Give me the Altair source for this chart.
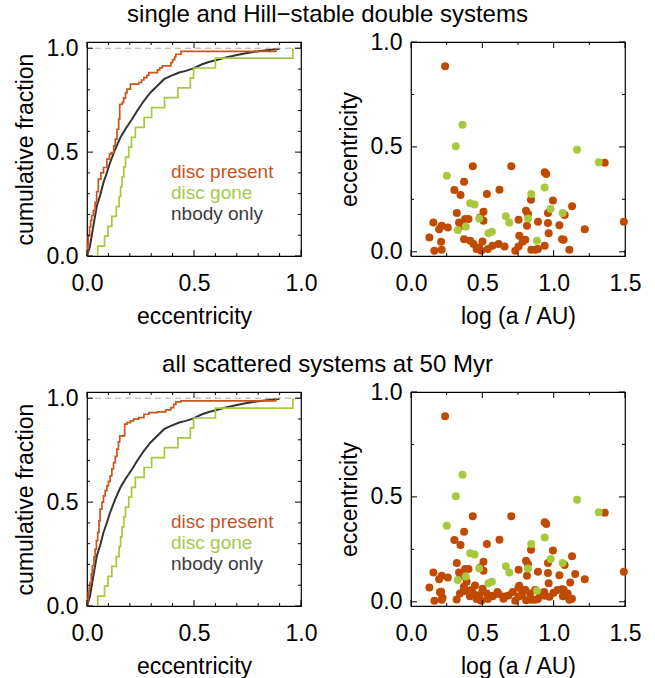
import altair as alt
import pandas as pd

FONT = "Liberation Sans"
ORANGE_LINE = "#c8561a"
ORANGE_DOT = "#c04a00"
GREEN_LINE = "#a6c83c"
GREEN_DOT = "#a8c83e"
GRAY_LINE = "#333333"

# ---------------- cumulative distributions (left panels) ----------------
gone_ecc = [0.050, 0.082, 0.098, 0.116, 0.137, 0.150, 0.157, 0.164, 0.172, 0.180,
            0.195, 0.208, 0.226, 0.267, 0.302, 0.362, 0.425, 0.483, 0.498, 0.600, 0.962]

present_top_ecc = [0, 0.003, 0.006, 0.012, 0.017, 0.022, 0.030, 0.038, 0.045, 0.053,
                   0.065, 0.077, 0.093, 0.105, 0.113, 0.125, 0.132, 0.140, 0.148, 0.153,
                   0.165, 0.171, 0.180, 0.187, 0.203, 0.242, 0.255, 0.266, 0.280, 0.289,
                   0.329, 0.340, 0.352, 0.392, 0.400, 0.410, 0.415, 0.439, 0.882]
present_top_frac = [0, 0.05, 0.098, 0.14, 0.17, 0.194, 0.22, 0.258, 0.31, 0.37,
                    0.40, 0.426, 0.466, 0.49, 0.498, 0.53, 0.5625, 0.61, 0.659, 0.73,
                    0.739, 0.76, 0.785, 0.803, 0.827, 0.835, 0.847, 0.859, 0.87, 0.883,
                    0.896, 0.905, 0.915, 0.931, 0.945, 0.958, 0.971, 0.985, 1.0]

present_bot_ecc = [0, 0.003, 0.006, 0.010, 0.014, 0.020, 0.025, 0.032, 0.038, 0.044,
                   0.050, 0.056, 0.061, 0.070, 0.077, 0.085, 0.093, 0.100, 0.108, 0.116,
                   0.124, 0.132, 0.140, 0.147, 0.153, 0.176, 0.187, 0.203, 0.218, 0.242,
                   0.266, 0.289, 0.329, 0.368, 0.392, 0.405, 0.415, 0.439, 0.882]
present_bot_frac = [0, 0.03, 0.066, 0.09, 0.114, 0.155, 0.194, 0.235, 0.274, 0.315,
                    0.354, 0.41, 0.466, 0.50, 0.53, 0.555, 0.578, 0.60, 0.626, 0.66,
                    0.69, 0.72, 0.755, 0.79, 0.819, 0.875, 0.883, 0.891, 0.899, 0.907,
                    0.923, 0.931, 0.934, 0.944, 0.955, 0.97, 0.982, 0.987, 1.0]

nbody_ecc = [0, 0.014, 0.030, 0.046, 0.061, 0.077, 0.093, 0.108, 0.132, 0.156,
             0.179, 0.211, 0.234, 0.266, 0.297, 0.329, 0.360, 0.392, 0.431, 0.462,
             0.494, 0.538, 0.569, 0.601, 0.648, 0.695, 0.742, 0.789, 0.852, 0.900]
nbody_frac = [0, 0.048, 0.146, 0.242, 0.29, 0.354, 0.402, 0.45, 0.514, 0.57,
              0.61, 0.659, 0.698, 0.747, 0.787, 0.819, 0.851, 0.867, 0.883, 0.891,
              0.902, 0.923, 0.934, 0.942, 0.955, 0.966, 0.976, 0.984, 0.992, 0.998]

# ---------------- scatter (right panels) ----------------
present_loga = [0.239, 0.433, 0.703, 0.937, 0.948, 1.358, 0.372, 0.304, 0.347, 0.532,
                0.620, 0.841, 0.995, 1.129, 0.321, 0.508, 0.806, 0.820, 0.960, 1.077,
                0.157, 0.215, 0.197, 0.258, 0.337, 0.379, 0.403, 0.356, 0.485, 0.508,
                0.754, 0.813, 0.890, 0.960, 0.965, 1.040, 1.218, 1.492, 0.129, 0.211,
                0.164, 0.215, 0.372, 0.415, 0.438, 0.478, 0.501, 0.492, 0.539, 0.571,
                0.614, 0.656, 0.731, 0.754, 0.759, 0.782, 0.801, 0.843, 0.871, 0.890,
                0.937, 1.059, 1.070, 1.110, 0.460]
present_e = [0.885, 0.408, 0.408, 0.379, 0.371, 0.424, 0.334, 0.295, 0.271, 0.275,
             0.296, 0.248, 0.245, 0.217, 0.185, 0.191, 0.196, 0.180, 0.185, 0.175,
             0.140, 0.124, 0.108, 0.116, 0.140, 0.156, 0.156, 0.124, 0.164, 0.148,
             0.153, 0.124, 0.143, 0.137, 0.089, 0.127, 0.108, 0.143, 0.068, 0.048,
             0.005, 0.010, 0.060, 0.053, 0.037, 0.021, 0.049, 0.005, 0.013, 0.029,
             0.037, 0.025, 0.005, 0.025, 0.076, 0.048, 0.057, 0.010, 0.010, 0.013,
             0.029, 0.060, 0.057, 0.010, 0.013]

# additional disc-present systems in the "all scattered" sample
extra_loga = [0.203, 0.221, 0.320, 0.343, 0.371, 0.390, 0.425, 0.449, 0.472, 0.502,
              0.530, 0.573, 0.606, 0.648, 0.683, 0.713, 0.753, 0.777, 0.807, 0.835,
              0.870, 0.905, 0.934, 0.971, 0.999, 1.027, 1.065, 1.098, 1.128, 1.116,
              1.151, 0.378, 0.413]
extra_e = [0.046, 0.019, 0.011, 0.040, 0.072, 0.095, 0.056, 0.078, 0.030, 0.062,
           0.040, 0.027, 0.047, 0.015, 0.030, 0.047, 0.067, 0.030, 0.008, 0.040,
           0.056, 0.030, 0.047, 0.024, 0.043, 0.056, 0.027, 0.040, 0.015, 0.092,
           0.132, 0.052, 0.027]

gone_loga = [0.361, 0.314, 0.251, 0.415, 0.445, 0.478, 0.384, 0.328, 0.543, 0.567,
             0.665, 0.689, 0.843, 0.820, 0.883, 0.937, 0.979, 1.063, 1.164, 1.316]
gone_e = [0.605, 0.503, 0.363, 0.232, 0.225, 0.159, 0.121, 0.104, 0.089, 0.096,
          0.169, 0.140, 0.275, 0.159, 0.053, 0.307, 0.204, 0.185, 0.486, 0.427]

# ---------------- ticks ----------------
cdf_major = [0.0, 0.5, 1.0]
cdf_minor = [0.1, 0.2, 0.3, 0.4, 0.6, 0.7, 0.8, 0.9]
loga_major = [0.0, 0.5, 1.0, 1.5]
loga_minor = [0.25, 0.75, 1.25]
ecc_major = [0.0, 0.5, 1.0]
ecc_minor = [0.25, 0.75]

legend_labels = ["disc present", "disc gone", "nbody only"]
legend_colors = ["#c8541e", "#a8c84a", "#3a3a3a"]

W, H = 214, 214
MAJ, MIN = 6, 3


def axis(title, values):
    return alt.Axis(title=title, values=values, format=".1f", ticks=False, domain=False,
                    grid=False, labelFlush=False, labelOverlap=False)


def tick_layers(vals, scale, ax, channel, length):
    d = pd.DataFrame({"t": vals})
    base = alt.Chart(d).mark_rule(color="black", strokeWidth=1)
    if channel == "x":
        enc = alt.X("t:Q", scale=scale, axis=ax)
        return [base.encode(x=enc, y=alt.value(H), y2=alt.value(H - length)),
                base.encode(x=enc, y=alt.value(0), y2=alt.value(length))]
    enc = alt.Y("t:Q", scale=scale, axis=ax)
    return [base.encode(y=enc, x=alt.value(0), x2=alt.value(length)),
            base.encode(y=enc, x=alt.value(W), x2=alt.value(W - length))]


def cdf_panel(p_ecc, p_frac):
    xs = alt.Scale(domain=[0, 1.0], nice=False, zero=False)
    ys = alt.Scale(domain=[0, 1.03], nice=False, zero=False)
    xa = axis("eccentricity", cdf_major)
    ya = axis("cumulative fraction", cdf_major)
    n = len(gone_ecc)
    gone_df = pd.DataFrame({
        "x": [gone_ecc[0]] + gone_ecc,
        "y": [0.0] + [(i + 1) / n for i in range(n)],
        "o": list(range(n + 1)),
    })
    pres_df = pd.DataFrame({"x": p_ecc, "y": p_frac, "o": list(range(len(p_ecc)))})
    nb_df = pd.DataFrame({"x": nbody_ecc, "y": nbody_frac, "o": list(range(len(nbody_ecc)))})

    dashed = alt.Chart(pd.DataFrame({"y": [1.0]})).mark_rule(
        color="#aaaaaa", strokeDash=[6, 4], strokeWidth=1
    ).encode(y=alt.Y("y:Q", scale=ys, axis=ya))

    def line(df, color, width, interp):
        return alt.Chart(df).mark_line(color=color, strokeWidth=width,
                                       interpolate=interp).encode(
            x=alt.X("x:Q", scale=xs, axis=xa),
            y=alt.Y("y:Q", scale=ys, axis=ya),
            order="o:Q",
        )

    nb = line(nb_df, GRAY_LINE, 2, "linear")
    gone = line(gone_df, GREEN_LINE, 1.7, "step-after")
    pres = line(pres_df, ORANGE_LINE, 1.7, "step-after")

    texts = []
    for i, (lab, col) in enumerate(zip(legend_labels, legend_colors)):
        texts.append(
            alt.Chart(pd.DataFrame({"lab": [lab]})).mark_text(
                align="left", baseline="middle", font=FONT, fontSize=19, color=col
            ).encode(x=alt.value(84), y=alt.value(130 + 21 * i), text="lab:N")
        )

    ticks = (tick_layers(cdf_major, xs, xa, "x", MAJ) + tick_layers(cdf_minor, xs, xa, "x", MIN)
             + tick_layers(cdf_major, ys, ya, "y", MAJ) + tick_layers(cdf_minor, ys, ya, "y", MIN))
    return alt.layer(nb, dashed, gone, pres, *texts, *ticks).properties(width=W, height=H)


def scatter_panel(p_loga, p_e):
    xs = alt.Scale(domain=[0, 1.5], nice=False, zero=False)
    ys = alt.Scale(domain=[-0.02, 1.0], nice=False, zero=False)
    xa = axis("log (a / AU)", loga_major)
    ya = axis("eccentricity", ecc_major)
    pdf = pd.DataFrame({"x": p_loga, "y": p_e})
    gdf = pd.DataFrame({"x": gone_loga, "y": gone_e})

    def pts(df, color):
        return alt.Chart(df).mark_circle(size=64, opacity=1, color=color).encode(
            x=alt.X("x:Q", scale=xs, axis=xa),
            y=alt.Y("y:Q", scale=ys, axis=ya),
        )

    ticks = (tick_layers(loga_major, xs, xa, "x", MAJ) + tick_layers(loga_minor, xs, xa, "x", MIN)
             + tick_layers(ecc_major, ys, ya, "y", MAJ) + tick_layers(ecc_minor, ys, ya, "y", MIN))
    return alt.layer(pts(pdf, ORANGE_DOT), pts(gdf, GREEN_DOT), *ticks).properties(width=W, height=H)


def row(title, p_ecc, p_frac, p_loga, p_e):
    return alt.hconcat(
        cdf_panel(p_ecc, p_frac), scatter_panel(p_loga, p_e),
        spacing=110, bounds="flush",
    ).properties(title=alt.TitleParams(title, anchor="middle", fontSize=24,
                                       font=FONT, fontWeight="normal", offset=3))


top = row("single and Hill\u2212stable double systems",
          present_top_ecc, present_top_frac, present_loga, present_e)
bottom = row("all scattered systems at 50 Myr",
             present_bot_ecc, present_bot_frac,
             present_loga + extra_loga, present_e + extra_e)

chart = alt.vconcat(top, bottom, spacing=24).properties(
    padding={"left": 13, "top": 3, "right": 5, "bottom": 5}
).configure_view(stroke="black", strokeWidth=1.2).configure_axis(
    labelFont=FONT, titleFont=FONT, labelFontSize=23, titleFontSize=23,
    titleFontWeight="normal", labelColor="black", titleColor="black",
).configure_axisX(labelPadding=16, titlePadding=10
).configure_axisY(labelPadding=9, titlePadding=9)

chart.save("out.html", embed_options={"renderer": "svg", "actions": False})
